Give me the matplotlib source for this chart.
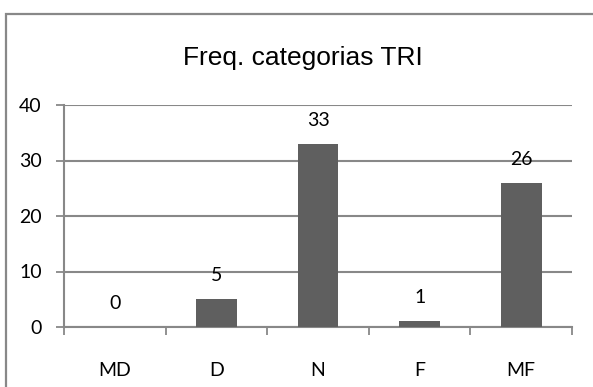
import matplotlib.pyplot as plt
from matplotlib.patches import Rectangle
from matplotlib.ticker import FixedLocator

# dados
categorias = ['MD', 'D', 'N', 'F', 'MF']
frequencias = [0, 5, 33, 1, 26]
y_ticks = [0, 10, 20, 30, 40]

cor_barra = '#5f5f5f'
cor_linha = '#888888'
fonte_num = ['Lato', 'DejaVu Sans']
fonte_tit = ['Liberation Sans Narrow', 'Liberation Sans', 'DejaVu Sans']

W, H = 593, 387
fig = plt.figure(figsize=(W / 100, H / 100), dpi=100)

# moldura externa (cortada à direita e embaixo)
fig.patches.append(Rectangle((6 / W, -0.05), 1.1, 1 - 14 / H + 0.05,
                             transform=fig.transFigure, fill=False,
                             edgecolor=cor_linha, linewidth=1.6))

ax = fig.add_axes([64 / W, 1 - 327 / H, (572 - 64) / W, (327 - 105) / H])

x = list(range(len(categorias)))
ax.bar(x, frequencias, width=0.4, color=cor_barra, zorder=3)

for xi, v in zip(x, frequencias):
    ax.annotate(str(v), (xi, v), xytext=(0, 17), textcoords='offset points',
                ha='center', va='center', fontsize=14, family=fonte_num, zorder=4)

ax.set_xlim(-0.5, len(categorias) - 0.5)
ax.set_ylim(0, 40)
ax.set_yticks(y_ticks)
ax.set_yticklabels([str(t) for t in y_ticks], family=fonte_num, fontsize=14)
ax.yaxis.grid(True, color=cor_linha, linewidth=1.5, zorder=0)

# marcas nas fronteiras das categorias, rótulos no centro
ax.xaxis.set_major_locator(FixedLocator([i - 0.5 for i in range(len(categorias) + 1)]))
ax.xaxis.set_major_formatter(plt.NullFormatter())
ax.xaxis.set_minor_locator(FixedLocator(x))
ax.set_xticklabels(categorias, minor=True, family=fonte_num, fontsize=14)
ax.tick_params(axis='x', which='minor', length=0, pad=25)
ax.tick_params(axis='x', which='major', length=6, width=1.3, color=cor_linha)
ax.tick_params(axis='y', length=6, width=1.3, color=cor_linha, pad=10)

for s in ['top', 'right']:
    ax.spines[s].set_visible(False)
for s in ['left', 'bottom']:
    ax.spines[s].set_color(cor_linha)
    ax.spines[s].set_linewidth(1.5)

fig.text(303 / W, 1 - 58 / H, 'Freq. categorias TRI', ha='center', va='center',
         fontsize=19, family=fonte_tit)

fig.savefig('out.png', dpi=100)
